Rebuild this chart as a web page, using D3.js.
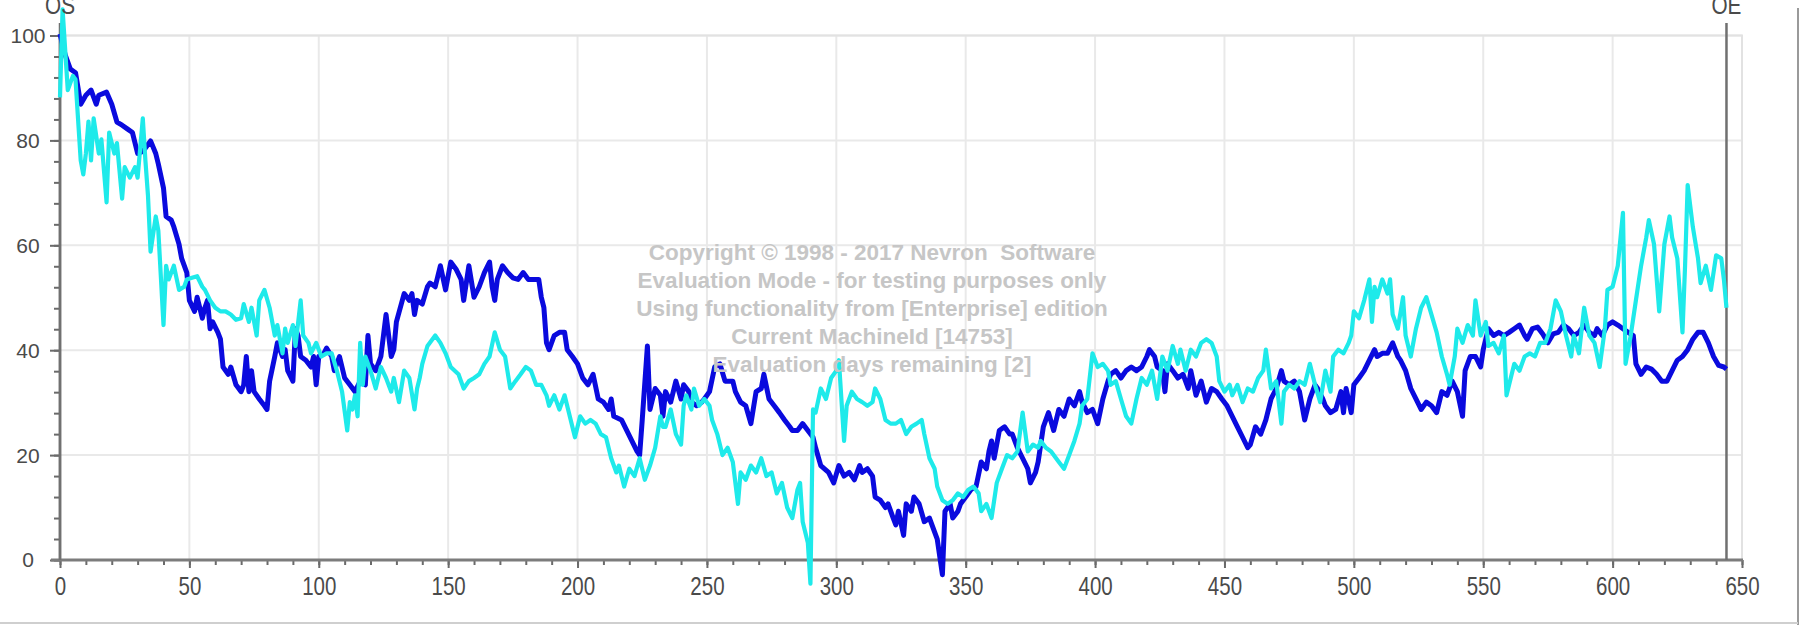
<!DOCTYPE html>
<html>
<head>
<meta charset="utf-8">
<script src="https://cdn.jsdelivr.net/npm/d3@7"></script>
<style>
  html, body { margin: 0; padding: 0; background: #fff; }
  svg { display: block; font-family: "Liberation Sans", Arial, sans-serif; }
  .wm { white-space: pre; }
</style>
</head>
<body>
<svg id="chart" width="1806" height="625"></svg>
<script>
// x ticks, y ticks
const xTicks = [0, 50, 100, 150, 200, 250, 300, 350, 400, 450, 500, 550, 600, 650];
const yTicks = [0, 20, 40, 60, 80, 100];

// range markers at the first and last point
const markers = [{ label: 'OS', at: 0 }, { label: 'OE', at: 644 }];

const watermark = [
  'Copyright \u00a9 1998 - 2017 Nevron  Software',
  'Evaluation Mode - for testing purposes only',
  'Using functionality from [Enterprise] edition',
  'Current MachineId [14753]',
  'Evaluation days remaining [2]'
];

// [index, value]
const blueSeries = [
  [0,100.3],[2,96.3],[4,93.6],[6,92.9],[8,86.9],[10,88.6],[12,89.6],[14,86.9],[15,88.6],[18,89.2],
  [20,86.9],[22,83.5],[24,82.9],[26,82.2],[28,81.5],[30,77.5],[32,77.9],[35,79.9],[37,77.5],[38,75.5],
  [40,70.9],[41,65.5],[43,64.8],[44,63.5],[46,60.2],[47,57.5],[49,54.8],[50,49.5],[52,47.4],[53,50.1],
  [55,46.1],[56,48.1],[57,49.5],[58,44.1],[59,45.4],[61,43.4],[62,42.1],[63,36.8],[65,35.4],[66,36.8],
  [68,33.4],[70,32.1],[71,33.4],[72,38.8],[73,32.1],[74,36.1],[75,32.1],[77,30.7],[79,29.4],[80,28.7],
  [81,34.1],[83,38.8],[84,41.4],[86,38.8],[87,40.1],[88,36.1],[90,34.1],[91,44.1],[92,42.8],[93,38.8],
  [95,38.1],[97,36.8],[98,38.8],[99,33.4],[100,38.8],[102,39.4],[103,40.4],[105,38.8],[106,36.1],[108,38.8],
  [110,34.7],[112,33.4],[114,32.1],[116,34.1],[118,33.4],[119,42.8],[120,37.4],[122,36.1],[124,38.8],[125,42.8],
  [126,46.8],[128,38.8],[129,40.1],[130,45.4],[133,50.8],[135,49.5],[136,50.8],[137,46.8],[138,49.5],[140,48.8],
  [142,52.1],[143,52.8],[145,52.1],[146,54.1],[147,56.1],[149,51.5],[151,56.8],[153,55.5],[155,53.5],[156,49.5],
  [158,56.1],[160,50.1],[162,52.1],[164,54.8],[166,56.8],[167,52.1],[168,49.5],[169,53.5],[171,56.1],[173,54.8],
  [175,53.8],[177,53.5],[179,54.8],[181,53.5],[183,53.5],[185,53.5],[186,50.1],[187,48.1],[188,41.4],[189,40.1],
  [191,42.8],[193,43.4],[195,43.4],[196,40.1],[198,38.8],[200,37.4],[202,34.7],[204,33.4],[206,35.4],[208,30.7],
  [210,30.1],[212,28.7],[213,30.7],[214,27.4],[217,26.7],[219,24.7],[221,22.7],[223,20.7],[224,20.0],[225,26.7],
  [227,40.8],[228,28.7],[230,32.7],[232,31.4],[233,27.4],[234,32.1],[236,30.1],[238,34.1],[240,30.7],[241,33.4],
  [243,32.1],[244,30.1],[246,29.4],[248,30.1],[249,30.7],[251,32.1],[253,36.8],[255,37.4],[257,34.1],[260,34.1],
  [261,32.1],[263,30.1],[265,29.4],[267,26.0],[269,32.1],[271,32.7],[272,35.4],[274,30.7],[276,29.4],[278,28.1],
  [280,26.7],[282,25.4],[283,24.7],[285,24.7],[287,26.0],[289,24.7],[291,23.4],[292,21.4],[294,18.0],[297,16.7],
  [299,14.7],[301,18.0],[303,16.0],[305,16.7],[307,15.3],[309,18.0],[310,16.7],[312,17.4],[314,16.0],[315,12.0],
  [317,11.4],[319,10.0],[320,10.7],[322,8.0],[323,6.7],[324,9.3],[326,4.7],[327,10.7],[329,9.3],[330,12.0],
  [332,10.7],[334,7.3],[336,8.0],[338,5.3],[339,4.0],[341,-2.8],[342,9.3],[344,10.7],[345,8.0],[347,9.3],
  [348,10.7],[350,12.0],[352,13.4],[354,14.0],[356,18.7],[358,17.4],[359,20.7],[360,22.7],[361,19.4],[363,24.7],
  [365,25.4],[367,24.0],[368,24.0],[370,21.4],[372,19.4],[374,17.4],[375,14.7],[377,16.7],[378,18.7],[380,25.4],
  [382,28.1],[384,24.7],[386,28.7],[388,27.4],[390,30.7],[392,29.4],[394,32.1],[395,30.1],[397,28.1],[399,28.7],
  [401,26.0],[403,30.7],[405,34.1],[406,35.4],[408,36.1],[410,34.7],[412,36.1],[414,36.8],[416,36.1],[418,36.8],
  [420,38.8],[421,40.1],[423,38.8],[424,36.8],[426,36.1],[427,32.1],[428,37.4],[430,36.1],[432,34.7],[434,35.4],
  [436,32.7],[437,36.1],[439,31.4],[441,34.1],[443,30.1],[445,32.7],[447,32.1],[449,30.7],[451,29.4],[453,27.4],
  [455,25.4],[457,23.4],[459,21.4],[460,22.0],[462,25.4],[464,24.0],[466,26.7],[468,30.7],[470,32.7],[472,36.1],
  [473,34.1],[475,33.4],[477,34.1],[479,32.1],[481,26.7],[483,30.7],[485,33.4],[486,32.7],[488,30.7],[489,29.4],
  [491,28.1],[493,28.7],[495,32.1],[496,28.1],[497,32.7],[499,28.1],[500,33.4],[502,34.7],[504,36.1],[506,38.1],
  [508,40.1],[509,38.8],[511,39.4],[513,39.4],[515,41.4],[517,38.8],[518,38.1],[520,36.1],[522,32.7],[524,30.7],
  [526,28.7],[528,30.1],[530,29.4],[532,28.1],[534,32.1],[536,31.4],[538,34.1],[540,32.1],[542,27.4],[543,36.1],
  [545,38.8],[547,38.8],[549,36.8],[550,40.1],[552,44.1],[554,42.8],[556,43.4],[558,42.8],[560,43.4],[562,44.1],
  [564,44.8],[566,42.8],[567,42.1],[569,44.1],[571,44.4],[573,43.1],[575,41.4],[577,43.1],[579,43.4],[581,44.8],
  [583,44.1],[585,42.8],[587,43.4],[589,44.8],[591,43.4],[593,42.8],[594,44.1],[596,42.8],[598,44.8],[600,45.4],
  [602,44.8],[604,44.1],[606,43.4],[608,42.8],[609,37.4],[611,35.4],[613,36.8],[615,36.4],[617,35.4],[619,34.1],
  [621,34.1],[623,36.1],[625,38.1],[627,38.8],[629,40.1],[631,42.1],[633,43.4],[635,43.4],[637,41.4],[639,38.8],
  [641,37.1],[643,36.8],[644,36.4]
];

const cyanSeries = [
  [0,88.2],[1,105],[3,89.6],[5,92.3],[6,91.6],[8,76.2],[9,73.5],[10,77.5],[11,83.6],[12,76.2],
  [13,84.2],[15,77.5],[16,80.2],[18,68.2],[19,81.5],[21,77.5],[22,79.5],[24,68.9],[25,74.9],[27,72.9],
  [29,74.9],[30,72.9],[32,84.2],[33,76.2],[34,69.5],[35,58.8],[37,65.5],[38,62.8],[40,44.8],[41,56.1],
  [42,53.5],[44,56.1],[46,51.5],[48,52.1],[49,53.5],[51,53.8],[53,54.1],[55,52.1],[56,51.5],[58,49.5],
  [60,48.1],[62,47.4],[64,47.4],[66,46.8],[68,45.8],[70,46.1],[71,48.8],[73,45.4],[74,48.1],[76,42.8],
  [77,49.5],[79,51.5],[81,48.1],[83,42.8],[84,44.8],[86,39.4],[87,44.1],[88,41.4],[90,44.8],[91,40.8],
  [93,49.5],[94,42.8],[96,41.4],[97,39.4],[99,41.4],[100,40.1],[101,38.8],[103,39.4],[105,39.4],[107,36.1],
  [109,32.1],[111,24.7],[112,30.1],[113,28.7],[114,31.4],[115,27.4],[116,41.4],[117,33.4],[118,38.8],[120,36.1],
  [122,32.7],[124,36.8],[126,34.7],[128,32.1],[129,34.7],[131,30.1],[133,36.1],[135,34.7],[137,28.7],[138,32.7],
  [139,34.7],[140,37.4],[142,40.8],[145,42.8],[147,41.4],[149,39.4],[151,36.8],[154,35.4],[156,32.7],[158,34.1],
  [160,34.7],[162,35.4],[164,37.4],[166,38.8],[168,43.4],[170,40.1],[172,38.8],[174,32.7],[176,34.1],[178,35.4],
  [180,36.8],[182,36.1],[184,33.4],[186,33.4],[188,31.4],[189,29.4],[191,31.4],[193,28.7],[195,31.4],[197,27.4],
  [199,23.4],[201,27.4],[203,26.0],[205,26.7],[207,26.0],[209,24.0],[211,23.4],[213,19.4],[215,16.7],[216,18.0],
  [218,14.0],[220,17.4],[222,16.0],[224,19.4],[226,15.3],[228,18.0],[230,21.4],[232,27.4],[233,25.4],[234,25.4],
  [236,28.7],[238,24.0],[240,22.0],[241,29.4],[242,31.4],[244,28.7],[245,32.7],[247,29.4],[249,30.7],[251,29.4],
  [252,26.7],[254,24.0],[256,20.0],[258,21.4],[260,18.7],[262,10.7],[263,16.7],[265,15.3],[267,18.0],[269,16.7],
  [271,19.4],[273,16.0],[275,16.7],[277,12.7],[279,14.7],[281,10.0],[283,8.0],[285,13.4],[286,14.7],[287,7.3],
  [289,3.3],[290,-4.5],[291,28.7],[292,28.1],[294,32.7],[296,30.7],[298,34.7],[300,36.1],[301,38.1],[303,22.7],
  [304,29.4],[306,32.1],[308,30.7],[310,30.1],[312,29.4],[314,30.1],[315,32.7],[317,30.7],[319,26.7],[321,26.0],
  [323,26.0],[325,26.7],[327,24.0],[329,25.4],[331,26.0],[333,26.7],[334,24.0],[336,19.4],[338,17.4],[339,14.0],
  [341,11.4],[343,10.7],[345,11.4],[347,12.7],[349,12.0],[351,13.4],[353,14.0],[355,12.7],[356,9.3],[358,10.7],
  [360,8.0],[362,14.7],[364,17.4],[366,20.0],[368,19.4],[370,20.7],[372,28.1],[374,20.7],[376,22.0],[378,21.4],
  [379,22.7],[381,21.4],[383,20.7],[386,18.7],[388,17.4],[390,20.0],[392,22.7],[394,26.0],[395,29.4],[397,30.7],
  [399,39.4],[401,36.8],[403,37.4],[405,36.1],[406,33.4],[408,34.1],[410,30.7],[412,27.4],[414,26.0],[416,30.7],
  [418,34.7],[420,33.4],[422,36.1],[424,30.7],[426,38.8],[428,36.1],[430,40.8],[432,37.4],[433,40.1],[435,36.1],
  [437,40.1],[439,38.8],[441,41.4],[443,42.1],[445,41.4],[447,38.8],[448,34.1],[450,32.1],[452,33.4],[453,31.4],
  [455,33.4],[457,30.1],[459,32.7],[461,32.1],[463,34.7],[465,36.1],[466,40.1],[468,32.7],[470,34.1],[472,26.0],
  [473,32.1],[475,33.4],[477,32.7],[479,34.1],[481,33.4],[483,37.4],[485,33.4],[487,30.1],[489,36.1],[491,32.1],
  [492,38.8],[494,40.1],[496,39.4],[498,41.4],[499,42.8],[500,47.4],[502,46.1],[504,49.5],[506,53.5],[507,45.4],
  [508,52.1],[509,50.1],[511,53.5],[513,50.8],[514,53.5],[515,46.8],[517,44.1],[519,50.1],[520,42.8],[522,38.8],
  [524,44.1],[526,48.1],[528,50.1],[530,46.8],[532,43.4],[534,38.8],[536,35.4],[537,33.4],[539,38.8],[540,44.1],
  [542,41.4],[544,44.8],[546,42.8],[547,49.5],[549,42.8],[551,45.4],[552,40.8],[554,41.4],[556,39.4],[558,42.8],
  [559,31.4],[560,33.4],[562,37.4],[564,36.1],[566,38.8],[568,39.4],[570,38.8],[572,41.4],[574,41.4],[576,44.1],
  [578,49.5],[580,47.4],[582,42.8],[584,38.8],[585,42.8],[587,39.4],[589,48.1],[591,42.8],[593,41.4],[595,36.8],
  [597,44.1],[598,51.5],[600,52.1],[602,56.1],[604,66.2],[605,37.4],[607,42.8],[609,49.5],[611,56.1],[613,61.5],
  [614,64.8],[616,60.2],[618,47.4],[620,60.2],[622,65.5],[623,61.5],[625,57.5],[627,43.4],[628,56.1],[629,71.5],
  [631,63.5],[633,57.5],[634,52.8],[636,56.1],[638,51.5],[640,58.1],[642,57.5],[643,53.5],[644,48.1]
];

const width = 1806, height = 625;
const margin = { top: 35.5, right: 64, bottom: 65, left: 60 };
const innerWidth = width - margin.left - margin.right;
const innerHeight = height - margin.top - margin.bottom;

const svg = d3.select('#chart');
const g = svg.append('g').attr('transform', `translate(${margin.left},${margin.top})`);

const xScale = d3.scaleLinear().domain([0, 650]).range([0, innerWidth]);
const yScale = d3.scaleLinear().domain([0, 100]).range([innerHeight, 0]);

// outer control border
svg.append('line').attr('x1', 1798).attr('x2', 1798).attr('y1', 8).attr('y2', 625)
  .attr('stroke', '#9a9a9a').attr('stroke-width', 2);
svg.append('line').attr('x1', 0).attr('x2', 1798).attr('y1', 623).attr('y2', 623)
  .attr('stroke', '#cfcfcf').attr('stroke-width', 2);

// grid
g.append('g').selectAll('line').data(xTicks.slice(1)).enter().append('line')
  .attr('x1', d => xScale(d)).attr('x2', d => xScale(d))
  .attr('y1', 0).attr('y2', innerHeight)
  .attr('stroke', '#e9e9e9').attr('stroke-width', 2);
g.append('g').selectAll('line').data(yTicks.slice(1)).enter().append('line')
  .attr('x1', 0).attr('x2', innerWidth)
  .attr('y1', d => yScale(d)).attr('y2', d => yScale(d))
  .attr('stroke', '#e9e9e9').attr('stroke-width', 2);
g.append('rect').attr('x', 0).attr('y', 0).attr('width', innerWidth).attr('height', innerHeight)
  .attr('fill', 'none').attr('stroke', '#e2e2e2').attr('stroke-width', 2);

// watermark sits under the lines
svg.append('g').selectAll('text').data(watermark).enter().append('text')
  .attr('class', 'wm')
  .attr('x', 872).attr('y', (d, i) => 260 + i * 27.9)
  .attr('text-anchor', 'middle')
  .attr('font-size', 22.5).attr('font-weight', 'bold')
  .attr('fill', '#c6c6c6')
  .text(d => d);

// axes
const yAxis = d3.axisLeft(yScale).tickValues(yTicks).tickSize(10).tickSizeOuter(0);
const yMinor = d3.axisLeft(yScale).tickValues(d3.range(0, 101, 4)).tickSize(6).tickFormat('').tickSizeOuter(0);
const xAxis = d3.axisBottom(xScale).tickValues(xTicks).tickSize(8).tickSizeOuter(0);
const xMinor = d3.axisBottom(xScale).tickValues(d3.range(0, 651, 10)).tickSize(5).tickFormat('').tickSizeOuter(0);

const ym = g.append('g').call(yMinor);
const ya = g.append('g').call(yAxis);
const xm = g.append('g').attr('transform', `translate(0,${innerHeight})`).call(xMinor);
const xa = g.append('g').attr('transform', `translate(0,${innerHeight})`).call(xAxis);

[ym, ya, xm, xa].forEach(a => {
  a.selectAll('.tick line').attr('stroke', '#6a6a6a').attr('stroke-width', 2);
  a.select('.domain').remove();
});
// minor ticks carry no labels
ym.selectAll('.tick text').remove();
xm.selectAll('.tick text').remove();

ya.selectAll('.tick text')
  .attr('x', -32).attr('dy', '0.33em')
  .attr('text-anchor', 'middle')
  .attr('font-size', 21).attr('fill', '#4a4a4a')
  .attr('font-family', '"Liberation Sans", Arial, sans-serif');

// the picture's x labels are tall and narrow
xa.selectAll('.tick text')
  .attr('y', 35).attr('dy', null)
  .attr('font-size', 25.5).attr('fill', '#4a4a4a')
  .attr('font-family', '"Liberation Sans", Arial, sans-serif')
  .attr('lengthAdjust', 'spacingAndGlyphs')
  .attr('textLength', d => String(d).length * 11.4);

// axis lines
g.append('line').attr('x1', 0).attr('x2', 0).attr('y1', -1).attr('y2', innerHeight)
  .attr('stroke', '#707070').attr('stroke-width', 2.5);
g.append('line').attr('x1', -9).attr('x2', innerWidth + 1).attr('y1', innerHeight).attr('y2', innerHeight)
  .attr('stroke', '#7c7c7c').attr('stroke-width', 3);

// range marker lines and labels
markers.forEach(m => {
  g.append('line').attr('x1', xScale(m.at)).attr('x2', xScale(m.at))
    .attr('y1', 23 - margin.top).attr('y2', innerHeight)
    .attr('stroke', '#707070').attr('stroke-width', 2.5);
  svg.append('text')
    .attr('x', margin.left + xScale(m.at)).attr('y', 14)
    .attr('text-anchor', 'middle')
    .attr('font-size', 25).attr('fill', '#4a4a4a')
    .attr('lengthAdjust', 'spacingAndGlyphs')
    .attr('textLength', 30)
    .text(m.label);
});

// series
const line = d3.line().x(d => xScale(d[0])).y(d => yScale(d[1]));

g.append('path').datum(blueSeries)
  .attr('d', line).attr('fill', 'none')
  .attr('stroke', '#0a0ade').attr('stroke-width', 5)
  .attr('stroke-linejoin', 'round');

g.append('path').datum(cyanSeries)
  .attr('d', line).attr('fill', 'none')
  .attr('stroke', '#1eeaea').attr('stroke-width', 4.2)
  .attr('stroke-linejoin', 'round');
</script>
</body>
</html>
